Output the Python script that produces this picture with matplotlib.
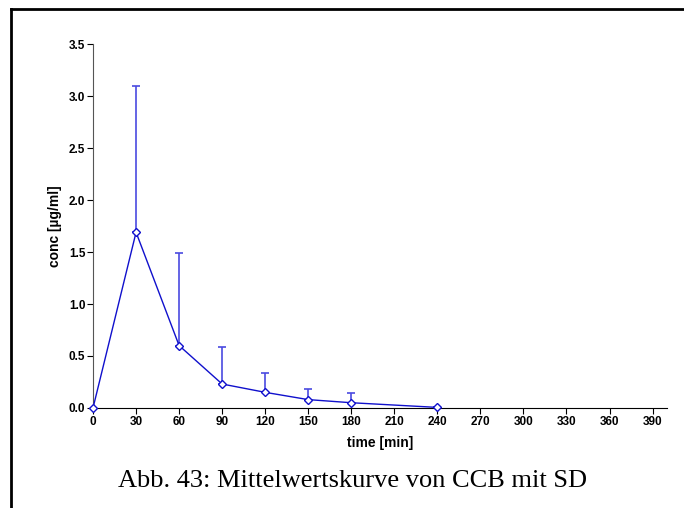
import matplotlib

matplotlib.use("Agg")

import matplotlib.pyplot as plt
from matplotlib.lines import Line2D

# mean concentration curve with SD (upper error only)
time_min = [0, 30, 60, 90, 120, 150, 180, 240]
conc_mean = [0.0, 1.69, 0.60, 0.23, 0.15, 0.08, 0.05, 0.005]
conc_sd = [0.0, 1.41, 0.89, 0.36, 0.19, 0.10, 0.09, 0.0]

x_ticks = list(range(0, 391, 30))
y_ticks = [0.0, 0.5, 1.0, 1.5, 2.0, 2.5, 3.0, 3.5]

caption = "Abb. 43: Mittelwertskurve von CCB mit SD"

plt.rcParams["font.family"] = ["Liberation Sans", "DejaVu Sans"]

fig = plt.figure(figsize=(6.84, 5.08), dpi=100, facecolor="white")
ax = fig.add_axes([0.136, 0.197, 0.839, 0.716])

lower = [0.0] * len(conc_sd)
ax.errorbar(
    time_min, conc_mean, yerr=[lower, conc_sd],
    fmt="none", ecolor="#4a4ae0", elinewidth=1.2, capsize=3, capthick=1.2, zorder=2,
)
ax.plot(
    time_min, conc_mean, color="#1010cc", lw=1.0, marker="D", ms=4,
    mfc="white", mec="#1010cc", mew=1.0, zorder=3, clip_on=False,
)

ax.set_xlim(0, 400)
ax.set_ylim(0, 3.5)
ax.set_xticks(x_ticks)
ax.set_yticks(y_ticks)
ax.set_yticklabels([f"{v:.1f}" for v in y_ticks])
for side in ("top", "right"):
    ax.spines[side].set_visible(False)
ax.spines["left"].set_color("#555555")
ax.spines["bottom"].set_color("black")
ax.tick_params(direction="out", length=4, width=0.8, labelsize=8.5, pad=1.5)
for lab in ax.get_xticklabels() + ax.get_yticklabels():
    lab.set_fontweight("bold")

ax.set_xlabel("time [min]", fontsize=10, fontweight="bold", labelpad=6)
ax.set_ylabel("conc [µg/ml]", fontsize=10, fontweight="bold", labelpad=5)

fig.text(0.516, 0.041, caption, ha="center", va="baseline", fontsize=19,
         family=["Liberation Serif", "DejaVu Serif"])

# page frame (left and top edges)
fig.add_artist(Line2D([0.016, 0.016], [0.0, 0.982], transform=fig.transFigure, color="black", lw=2))
fig.add_artist(Line2D([0.016, 1.0], [0.982, 0.982], transform=fig.transFigure, color="black", lw=2))

fig.savefig("out.png", dpi=100)
